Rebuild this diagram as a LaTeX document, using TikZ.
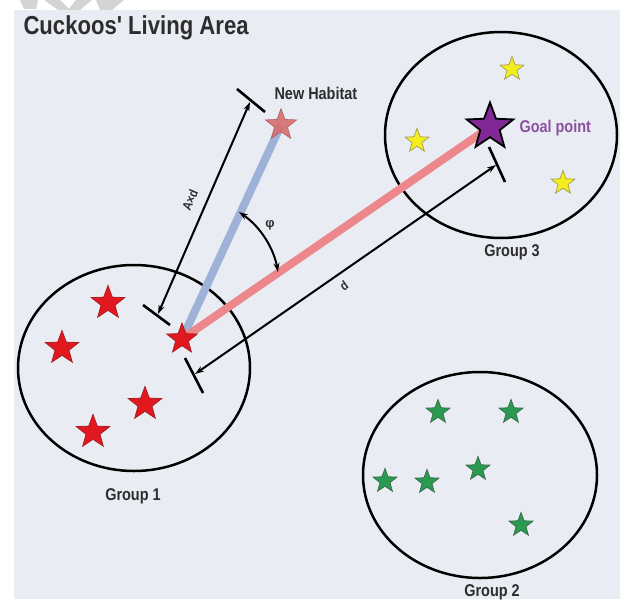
\documentclass[tikz,border=0pt]{standalone}
\usepackage{fontspec}
\setmainfont{Liberation Sans}
\newfontfamily\nar[FakeStretch=0.85]{Liberation Sans}
\usetikzlibrary{shapes.geometric,arrows.meta}
\definecolor{panel}{RGB}{233,236,243}
\definecolor{txt}{RGB}{45,45,45}
\definecolor{redstar}{RGB}{226,24,32}
\definecolor{rededge}{RGB}{170,30,35}
\definecolor{greenstar}{RGB}{40,155,80}
\definecolor{greenedge}{RGB}{60,110,80}
\definecolor{yellowstar}{RGB}{245,238,30}
\definecolor{yellowedge}{RGB}{170,165,80}
\definecolor{purplestar}{RGB}{130,40,150}
\definecolor{purpletxt}{RGB}{140,80,160}
\definecolor{newstar}{RGB}{214,110,110}
\definecolor{blueline}{RGB}{157,178,214}
\definecolor{pinkline}{RGB}{236,136,140}
\definecolor{wm}{RGB}{212,212,212}
\tikzset{
  starbase/.style={star, star points=5, star point ratio=2.4, inner sep=0pt},
  redst/.style={starbase, fill=redstar, draw=rededge, line width=0.8pt, minimum size=35pt},
  greenst/.style={starbase, fill=greenstar, draw=greenedge, line width=0.8pt, minimum size=25pt},
  yellowst/.style={starbase, fill=yellowstar, draw=yellowedge, line width=0.8pt, minimum size=25pt},
  group/.style={draw=black, line width=2.5pt},
  lbl/.style={font=\nar\bfseries\fontsize{17}{17}\selectfont, text=txt},
  dimline/.style={line width=2pt, {Stealth[length=9pt,width=6pt]}-{Stealth[length=9pt,width=6pt]}},
  tick/.style={line width=2.6pt},
}
\begin{document}
\begin{tikzpicture}[x=1pt,y=-1pt]
\useasboundingbox (0,0) rectangle (620,599);
\fill[white] (0,0) rectangle (620,599);
\fill[panel] (14,10) rectangle (620,599);
% watermark remnants
\fill[wm] (20,0) -- (38,0) -- (36,9) -- (24,9) -- cycle;
\fill[wm] (44,0) -- (60,0) -- (70,10) -- (58,10) -- cycle;
\fill[wm] (76,0) -- (92,0) -- (80,10) -- (68,10) -- cycle;
\fill[wm] (96,0) -- (124,0) -- (112,10) -- (100,10) -- cycle;
% title
\node[font=\nar\bfseries\fontsize{26}{26}\selectfont, text=txt, anchor=west] (title) at (20,28) {Cuckoos' Living Area};
% groups
\draw[group] (134,368) ellipse [x radius=116, y radius=103];
\node (g1c) at (134,368) {};
\draw[group] (501,135) ellipse [x radius=116, y radius=103];
\node (g3c) at (501,135) {};
\draw[group] (480,475) ellipse [x radius=117, y radius=103];
\node (g2c) at (480,475) {};
\node[lbl] (g1) at (133,496) {Group 1};
\node[lbl] (g3) at (512,252) {Group 3};
\node[lbl] (g2) at (492,592) {Group 2};
% group 1 stars
\node[redst] (r1) at (108,303) {};
\node[redst] (r2) at (62,348) {};
\node[redst] (r3) at (145,404) {};
\node[redst] (r4) at (93,432) {};
% group 2 stars
\node[greenst] (gs1) at (438,412) {};
\node[greenst] (gs2) at (511,412) {};
\node[greenst] (gs3) at (478,469) {};
\node[greenst] (gs4) at (385,481) {};
\node[greenst] (gs5) at (427,482) {};
\node[greenst] (gs6) at (521,525) {};
% group 3 stars
\node[yellowst] (y1) at (512,69) {};
\node[yellowst] (y2) at (417,141) {};
\node[yellowst] (y3) at (563,183) {};
% key points
\coordinate (s0) at (182,339);
\coordinate (nhp) at (281,125);
\coordinate (gp) at (490,127);
% thick lines
\draw[blueline, line width=8pt] (s0) -- (nhp);
\draw[pinkline, line width=8pt] (s0) -- (gp);
% main stars
\node[starbase, fill=redstar, draw=rededge, line width=0.8pt, minimum size=32pt] (main) at (s0) {};
\node[starbase, fill=newstar, draw=newstar!80!black, line width=0.6pt, minimum size=33pt, opacity=0.9] (nh) at (nhp) {};
\node[starbase, fill=purplestar, draw=black, line width=1.8pt, minimum size=49pt] (goal) at (gp) {};
\node[font=\nar\bfseries\fontsize{17}{17}\selectfont, text=txt, anchor=west] (nhl) at (271,93) {New Habitat};
\node[font=\nar\bfseries\fontsize{17}{17}\selectfont, text=purpletxt, anchor=west] (gpl) at (516,128) {Goal point};
% A x d dimension
\coordinate (t1a) at (143,305); \coordinate (t1b) at (170,325);
\coordinate (t2a) at (237,89); \coordinate (t2b) at (265,112);
\draw[tick] (t1a) -- (t1b);
\draw[tick] (t2a) -- (t2b);
\coordinate (ad1) at (158,314);
\coordinate (ad2) at (250,102);
\draw[dimline] (ad1) -- (ad2);
\node[font=\nar\bfseries\fontsize{13}{13}\selectfont, text=txt, rotate=67, inner sep=1pt] (adl) at (190,200) {A×d};
% d dimension
\coordinate (t3a) at (185,358); \coordinate (t3b) at (203,393);
\coordinate (t4a) at (489,147); \coordinate (t4b) at (505,182);
\draw[tick] (t3a) -- (t3b);
\draw[tick] (t4a) -- (t4b);
\coordinate (dd1) at (195,374);
\coordinate (dd2) at (496,165);
\draw[dimline] (dd1) -- (dd2);
\node[font=\nar\bfseries\fontsize{13}{13}\selectfont, text=txt, rotate=35] (dl) at (344,286) {d};
% phi arc
\coordinate (p1) at (239,212);
\coordinate (p2) at (278,272);
\draw[line width=2pt, {Stealth[length=9pt,width=6pt]}-{Stealth[length=9pt,width=6pt]}] (p1) .. controls (262,228) and (274,250) .. (p2);
\node[font=\bfseries\fontsize{13}{13}\selectfont, text=txt] (phi) at (270,225) {φ};
\end{tikzpicture}
\end{document}
